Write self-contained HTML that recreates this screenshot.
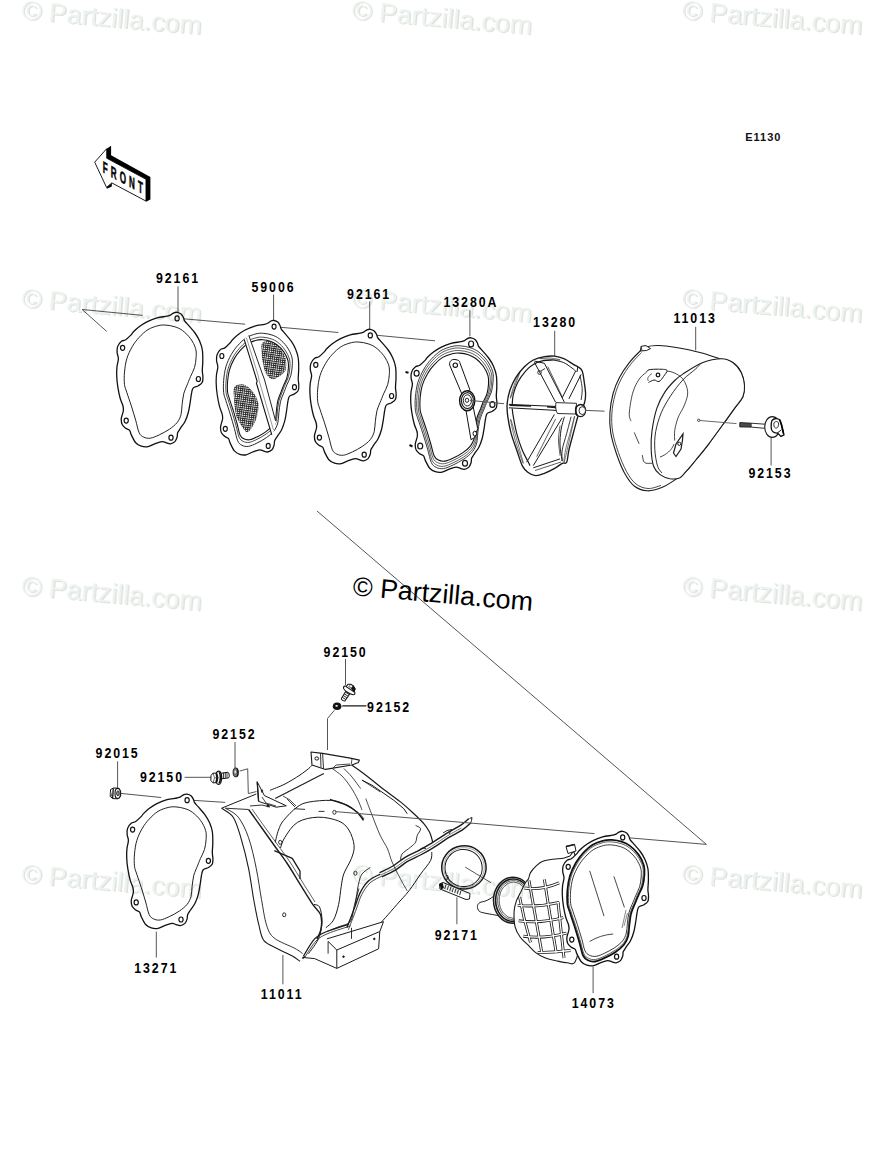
<!DOCTYPE html>
<html><head><meta charset="utf-8"><style>
html,body{margin:0;padding:0;background:#fff;width:894px;height:1170px;overflow:hidden}
svg{display:block}
.wm{font-family:"Liberation Sans",sans-serif;font-size:26.8px;fill:#edf4ee}
.wm2{font-family:"Liberation Sans",sans-serif;font-size:26.8px;fill:#dfe0df}
.lb{font-family:"Liberation Sans",sans-serif;font-weight:bold;font-size:14.4px;letter-spacing:2.25px;fill:#000}
</style></head><body>
<svg width="894" height="1170" viewBox="0 0 894 1170">
<defs><g id="gasket"><path d="M177.1,312.3 C178.3,312.5 180.0,313.1 181.0,313.9 C182.0,314.7 182.7,316.1 183.3,317.3 C183.9,318.5 183.8,319.6 184.6,320.9 C185.4,322.2 186.6,323.1 188.3,325.1 C190.0,327.1 193.1,330.4 195.0,333.0 C196.9,335.6 198.3,338.0 199.5,340.8 C200.7,343.6 201.8,346.4 202.3,349.7 C202.9,353.0 202.8,357.4 202.8,360.9 C202.8,364.4 202.3,367.9 202.3,370.5 C202.3,373.1 202.9,374.7 202.9,376.7 C202.9,378.7 203.1,380.8 202.3,382.3 C201.6,383.8 199.9,384.8 198.4,385.7 C196.9,386.6 194.4,386.8 193.3,387.9 C192.2,389.0 192.2,389.8 191.7,392.4 C191.1,395.0 190.6,400.2 190.0,403.6 C189.4,407.0 189.1,409.5 188.3,412.5 C187.5,415.5 186.3,418.9 185.0,421.5 C183.7,424.1 181.7,426.3 180.5,428.2 C179.3,430.1 178.3,431.1 177.7,432.6 C177.1,434.1 177.6,435.6 177.1,437.1 C176.6,438.6 176.0,440.5 174.9,441.6 C173.8,442.7 171.9,443.6 170.4,443.8 C168.9,444.0 167.3,443.1 165.9,442.7 C164.5,442.3 163.9,441.4 162.0,441.6 C160.1,441.8 157.0,443.0 154.7,443.8 C152.4,444.6 150.2,446.2 148.0,446.6 C145.8,447.0 143.4,446.8 141.3,446.1 C139.2,445.5 137.4,444.6 135.7,442.7 C134.0,440.8 132.3,436.9 131.3,434.9 C130.3,432.8 130.5,431.5 129.6,430.4 C128.7,429.3 126.9,429.1 125.7,428.2 C124.5,427.3 123.0,426.3 122.3,424.8 C121.5,423.3 121.2,420.9 121.2,419.2 C121.2,417.5 121.9,416.2 122.3,414.7 C122.7,413.2 123.3,411.8 123.4,410.3 C123.5,408.8 123.5,407.9 122.9,405.8 C122.4,403.8 120.9,401.2 120.1,398.0 C119.2,394.8 118.4,390.5 117.8,386.8 C117.2,383.1 116.8,379.0 116.7,375.6 C116.6,372.2 116.7,369.3 117.0,366.5 C117.3,363.7 118.4,361.0 118.4,358.7 C118.4,356.4 117.2,354.5 117.1,352.5 C117.0,350.5 116.9,348.5 117.6,346.6 C118.3,344.8 119.8,342.5 121.2,341.4 C122.6,340.2 124.0,340.8 125.7,339.7 C127.4,338.6 130.0,335.9 131.3,334.6 C132.6,333.3 132.2,333.1 133.5,331.8 C134.8,330.5 136.9,328.5 139.1,326.8 C141.3,325.1 143.9,323.3 146.9,321.8 C149.9,320.3 153.7,318.8 157.0,317.9 C160.3,317.0 164.8,316.7 167.0,316.2 C169.2,315.7 169.3,315.7 170.4,315.1 C171.5,314.5 172.7,313.3 173.8,312.8 C174.9,312.3 175.9,312.1 177.1,312.3Z" fill="#fff" stroke="#111" stroke-width="1.3"/><path d="M165.9,325.1 C168.7,325.3 172.1,325.9 174.9,326.8 C177.7,327.7 180.1,328.7 182.7,330.7 C185.3,332.7 188.3,335.6 190.5,338.6 C192.7,341.6 194.7,345.4 195.6,348.6 C196.5,351.8 196.3,354.4 196.1,357.6 C195.9,360.8 195.4,364.4 194.5,367.6 C193.6,370.8 191.6,374.0 190.5,376.6 C189.4,379.2 188.9,380.5 187.8,383.3 C186.7,386.1 184.8,389.9 183.8,393.5 C182.9,397.1 182.6,401.2 182.1,404.7 C181.6,408.2 181.8,411.7 181.0,414.7 C180.2,417.7 179.0,420.2 177.1,422.6 C175.2,425.0 172.3,427.2 169.3,429.3 C166.3,431.4 162.4,433.4 159.2,434.9 C156.0,436.4 152.9,437.8 150.3,438.2 C147.7,438.6 145.5,438.0 143.6,437.1 C141.7,436.2 140.4,435.4 139.1,432.6 C137.8,429.8 137.0,424.8 135.7,420.3 C134.4,415.8 132.8,410.5 131.3,405.8 C129.8,401.1 127.9,395.9 126.8,392.4 C125.7,388.8 124.9,387.9 124.5,384.5 C124.1,381.1 124.1,376.4 124.5,372.1 C124.9,367.8 125.5,363.0 126.8,358.7 C128.1,354.4 130.3,349.9 132.4,346.4 C134.5,342.8 136.5,340.2 139.1,337.4 C141.7,334.6 144.8,331.6 148.0,329.6 C151.2,327.7 155.1,326.4 158.1,325.7 C161.1,324.9 163.1,324.9 165.9,325.1Z" fill="none" stroke="#222" stroke-width="1"/><g id="gbolts"><ellipse cx="177.1" cy="318.4" rx="2.1" ry="2.5" fill="#fff" stroke="#111" stroke-width="1.2"/><ellipse cx="122.6" cy="347.8" rx="2.1" ry="2.5" fill="#fff" stroke="#111" stroke-width="1.2"/><ellipse cx="198.4" cy="379.0" rx="2.1" ry="2.5" fill="#fff" stroke="#111" stroke-width="1.2"/><ellipse cx="126.2" cy="420.6" rx="2.1" ry="2.5" fill="#fff" stroke="#111" stroke-width="1.2"/><ellipse cx="171.0" cy="437.7" rx="2.1" ry="2.5" fill="#fff" stroke="#111" stroke-width="1.2"/></g></g><g id="gflange"><path d="M177.1,312.3 C178.3,312.5 180.0,313.1 181.0,313.9 C182.0,314.7 182.7,316.1 183.3,317.3 C183.9,318.5 183.8,319.6 184.6,320.9 C185.4,322.2 186.6,323.1 188.3,325.1 C190.0,327.1 193.1,330.4 195.0,333.0 C196.9,335.6 198.3,338.0 199.5,340.8 C200.7,343.6 201.8,346.4 202.3,349.7 C202.9,353.0 202.8,357.4 202.8,360.9 C202.8,364.4 202.3,367.9 202.3,370.5 C202.3,373.1 202.9,374.7 202.9,376.7 C202.9,378.7 203.1,380.8 202.3,382.3 C201.6,383.8 199.9,384.8 198.4,385.7 C196.9,386.6 194.4,386.8 193.3,387.9 C192.2,389.0 192.2,389.8 191.7,392.4 C191.1,395.0 190.6,400.2 190.0,403.6 C189.4,407.0 189.1,409.5 188.3,412.5 C187.5,415.5 186.3,418.9 185.0,421.5 C183.7,424.1 181.7,426.3 180.5,428.2 C179.3,430.1 178.3,431.1 177.7,432.6 C177.1,434.1 177.6,435.6 177.1,437.1 C176.6,438.6 176.0,440.5 174.9,441.6 C173.8,442.7 171.9,443.6 170.4,443.8 C168.9,444.0 167.3,443.1 165.9,442.7 C164.5,442.3 163.9,441.4 162.0,441.6 C160.1,441.8 157.0,443.0 154.7,443.8 C152.4,444.6 150.2,446.2 148.0,446.6 C145.8,447.0 143.4,446.8 141.3,446.1 C139.2,445.5 137.4,444.6 135.7,442.7 C134.0,440.8 132.3,436.9 131.3,434.9 C130.3,432.8 130.5,431.5 129.6,430.4 C128.7,429.3 126.9,429.1 125.7,428.2 C124.5,427.3 123.0,426.3 122.3,424.8 C121.5,423.3 121.2,420.9 121.2,419.2 C121.2,417.5 121.9,416.2 122.3,414.7 C122.7,413.2 123.3,411.8 123.4,410.3 C123.5,408.8 123.5,407.9 122.9,405.8 C122.4,403.8 120.9,401.2 120.1,398.0 C119.2,394.8 118.4,390.5 117.8,386.8 C117.2,383.1 116.8,379.0 116.7,375.6 C116.6,372.2 116.7,369.3 117.0,366.5 C117.3,363.7 118.4,361.0 118.4,358.7 C118.4,356.4 117.2,354.5 117.1,352.5 C117.0,350.5 116.9,348.5 117.6,346.6 C118.3,344.8 119.8,342.5 121.2,341.4 C122.6,340.2 124.0,340.8 125.7,339.7 C127.4,338.6 130.0,335.9 131.3,334.6 C132.6,333.3 132.2,333.1 133.5,331.8 C134.8,330.5 136.9,328.5 139.1,326.8 C141.3,325.1 143.9,323.3 146.9,321.8 C149.9,320.3 153.7,318.8 157.0,317.9 C160.3,317.0 164.8,316.7 167.0,316.2 C169.2,315.7 169.3,315.7 170.4,315.1 C171.5,314.5 172.7,313.3 173.8,312.8 C174.9,312.3 175.9,312.1 177.1,312.3Z" fill="#fff" stroke="#111" stroke-width="1.3"/></g><pattern id="mesh" width="2.1" height="2.1" patternUnits="userSpaceOnUse" patternTransform="rotate(8)"><path d="M0,0.5H2.1M0.5,0V2.1" stroke="#222" stroke-width="0.85"/></pattern></defs>
<text x="745.2" y="141.1" font-family="Liberation Sans" font-weight="bold" font-size="11" letter-spacing="1" fill="#111">E1130</text>
<g><polygon points="106.7,148.7 111.1,145.8 111.1,155.3 150.4,177.1 150.4,199.6 146,201.8 146,179.3 106.7,158.2" fill="#000"/><polygon points="106.7,179.3 111.8,182.6 111.8,186.5 106.9,188.7" fill="#000"/><polygon points="94.7,162.2 106.7,148.7 106.7,158.2 146,179.3 146,201.1 111.8,182.9 106.6,187.5" fill="#fff" stroke="#000" stroke-width="0.9" stroke-linejoin="round"/><text transform="translate(102.7,172.3) skewY(28.5) scale(0.5,1)" font-family="Liberation Sans" font-weight="bold" font-size="16.2" letter-spacing="6.2" fill="#000" stroke="#000" stroke-width="0.5">FRONT</text></g>
<g stroke="#555" stroke-width="1" fill="none"><line x1="82.1" y1="309.5" x2="142.7" y2="315.4"/><line x1="82.1" y1="309.5" x2="106.7" y2="331.4"/><line x1="178.0" y1="318.3" x2="245.2" y2="324.2"/><line x1="274.0" y1="326.7" x2="338.4" y2="332.5"/><line x1="370.6" y1="334.7" x2="435.0" y2="340.8"/><line x1="178.0" y1="286.4" x2="178.0" y2="312.5"/><line x1="273.6" y1="294.6" x2="273.6" y2="322.0"/><line x1="369.7" y1="301.3" x2="369.7" y2="330.4"/><line x1="469.9" y1="310.3" x2="469.9" y2="336.3"/><line x1="554.7" y1="330.8" x2="554.7" y2="356.2"/><line x1="695.7" y1="326.8" x2="695.7" y2="350.3"/><line x1="771.1" y1="434.2" x2="771.1" y2="465.5"/><line x1="345.5" y1="659.0" x2="345.5" y2="685.0"/><line x1="342.5" y1="705.5" x2="366.5" y2="705.5"/><line x1="235.0" y1="742.0" x2="235.0" y2="768.0"/><line x1="117.6" y1="761.3" x2="117.6" y2="787.7"/><line x1="184.6" y1="777.3" x2="211.6" y2="777.3"/><line x1="156.3" y1="931.6" x2="156.3" y2="957.5"/><line x1="282.9" y1="955.0" x2="282.9" y2="984.3"/><line x1="456.9" y1="897.3" x2="456.9" y2="924.2"/><line x1="593.1" y1="966.7" x2="593.1" y2="993.1"/></g>
<use href="#gasket"/>
<g><g transform="matrix(0.958,0,0,1,104.4,8.2)"><use href="#gasket"/><path d="M165.5,329.0 C168.1,329.2 171.3,329.7 173.9,330.6 C176.5,331.5 178.7,332.4 181.1,334.2 C183.6,336.1 186.4,338.8 188.4,341.6 C190.4,344.3 192.3,347.9 193.1,350.9 C194.0,353.8 193.8,356.3 193.6,359.2 C193.4,362.2 193.0,365.6 192.1,368.5 C191.3,371.5 189.4,374.5 188.4,376.9 C187.4,379.3 186.9,380.5 185.9,383.1 C184.9,385.8 183.1,389.3 182.2,392.6 C181.3,395.9 181.0,399.8 180.6,403.0 C180.2,406.3 180.3,409.6 179.6,412.3 C178.8,415.1 177.8,417.4 175.9,419.7 C174.1,422.0 171.5,424.0 168.7,425.9 C165.9,427.8 162.2,429.7 159.3,431.1 C156.3,432.5 153.4,433.9 151.0,434.2 C148.6,434.5 146.5,434.0 144.8,433.2 C143.0,432.3 141.8,431.6 140.6,429.0 C139.4,426.4 138.6,421.7 137.4,417.5 C136.2,413.4 134.7,408.4 133.3,404.1 C132.0,399.7 130.2,394.9 129.2,391.6 C128.1,388.3 127.4,387.4 127.0,384.3 C126.7,381.1 126.7,376.7 127.0,372.7 C127.4,368.7 127.9,364.2 129.2,360.3 C130.4,356.3 132.5,352.1 134.4,348.8 C136.3,345.5 138.2,343.1 140.6,340.5 C143.0,337.8 145.9,335.0 148.9,333.2 C151.8,331.4 155.5,330.3 158.3,329.6 C161.0,328.9 162.9,328.8 165.5,329.0Z" fill="none" stroke="#333" stroke-width="0.9"/><path d="M165.3,331.5 C167.8,331.7 170.8,332.2 173.2,333.0 C175.7,333.9 177.8,334.7 180.1,336.5 C182.4,338.2 185.1,340.8 187.1,343.5 C189.0,346.1 190.7,349.5 191.6,352.3 C192.4,355.1 192.2,357.5 192.0,360.3 C191.8,363.1 191.4,366.3 190.6,369.1 C189.8,371.9 188.0,374.8 187.1,377.1 C186.1,379.4 185.6,380.5 184.7,383.0 C183.7,385.5 182.0,388.9 181.1,392.1 C180.3,395.2 180.0,398.8 179.6,402.0 C179.2,405.1 179.4,408.2 178.6,410.8 C177.9,413.5 176.9,415.7 175.2,417.8 C173.5,420.0 170.9,421.9 168.3,423.7 C165.6,425.6 162.2,427.4 159.3,428.7 C156.5,430.0 153.8,431.3 151.5,431.6 C149.2,431.9 147.2,431.5 145.5,430.6 C143.9,429.8 142.7,429.1 141.6,426.7 C140.4,424.2 139.7,419.7 138.6,415.8 C137.4,411.8 136.0,407.1 134.7,402.9 C133.3,398.8 131.7,394.2 130.7,391.1 C129.7,387.9 129.0,387.1 128.6,384.1 C128.3,381.1 128.3,376.9 128.6,373.1 C129.0,369.3 129.5,365.1 130.7,361.3 C131.8,357.5 133.8,353.5 135.6,350.4 C137.4,347.2 139.3,344.9 141.6,342.4 C143.9,339.9 146.6,337.2 149.4,335.5 C152.2,333.8 155.7,332.7 158.4,332.1 C161.0,331.4 162.8,331.4 165.3,331.5Z" fill="none" stroke="#111" stroke-width="1.1"/></g><path d="M262.3,343.1 C263.9,340.8 268.5,340.8 271.4,341.6 C274.3,342.4 277.1,345.3 279.5,348.1 C281.9,350.9 284.5,354.5 285.5,358.2 C286.5,361.9 286.5,367.3 285.5,370.3 C284.5,373.3 281.7,374.8 279.5,376.3 C277.3,377.8 274.6,379.6 272.4,379.3 C270.2,379.0 267.9,376.7 266.4,374.3 C264.9,371.9 264.1,368.4 263.3,365.2 C262.5,362.0 262.0,358.9 261.8,355.2 C261.6,351.5 260.7,345.4 262.3,343.1Z" fill="url(#mesh)" stroke="none"/><path d="M234.5,387.0 C236.0,384.4 240.2,383.9 243.2,384.6 C246.2,385.3 249.8,387.9 252.3,391.0 C254.8,394.1 257.5,399.1 258.3,403.1 C259.1,407.1 258.1,411.5 257.3,415.2 C256.5,418.9 255.0,422.4 253.3,425.3 C251.6,428.2 249.2,432.3 247.2,432.3 C245.2,432.3 243.0,428.2 241.2,425.3 C239.3,422.4 237.3,419.4 236.1,415.2 C234.9,411.0 234.4,404.8 234.1,400.1 C233.8,395.4 233.0,389.6 234.5,387.0Z" fill="url(#mesh)" stroke="none"/><path d="M243.8,339.6 L248.8,334.8 L276.2,421.5 L272.5,436.2 Z" fill="#fff" stroke="none"/><path d="M244.2,339.3 L257.2,381.5 L256.4,383 L271.8,434.8" fill="none" stroke="#111" stroke-width="1.1"/><path d="M248.8,335.4 L259.5,366 L264.6,380 L265.4,383 L275.6,421" fill="none" stroke="#222" stroke-width="1"/><path d="M246.5,338 L258,375 L259.5,382 L273.5,430" fill="none" stroke="#555" stroke-width="0.6"/></g>
<use href="#gasket" transform="translate(193.2,17)"/>
<g><use href="#gflange" transform="translate(294.0,25.5)"/><path d="M460.4,345.8 C463.4,346.0 467.1,346.7 470.1,347.7 C473.2,348.7 475.8,349.8 478.6,351.9 C481.4,354.1 484.7,357.3 487.1,360.5 C489.4,363.7 491.6,367.9 492.6,371.3 C493.6,374.8 493.3,377.7 493.1,381.1 C492.9,384.5 492.4,388.5 491.4,392.0 C490.4,395.4 488.3,398.9 487.1,401.7 C485.8,404.6 485.3,405.9 484.1,409.0 C482.9,412.1 480.8,416.2 479.8,420.1 C478.7,423.9 478.4,428.4 477.9,432.2 C477.4,436.0 477.6,439.8 476.7,443.1 C475.8,446.3 474.6,449.0 472.5,451.6 C470.4,454.3 467.3,456.7 464.0,458.9 C460.8,461.1 456.5,463.4 453.1,465.0 C449.7,466.6 446.3,468.2 443.4,468.6 C440.6,469.0 438.2,468.4 436.2,467.4 C434.1,466.4 432.7,465.5 431.3,462.5 C429.9,459.4 429.0,454.0 427.6,449.1 C426.2,444.3 424.4,438.5 422.8,433.4 C421.2,428.4 419.2,422.7 417.9,418.9 C416.7,415.0 415.9,414.0 415.4,410.3 C415.0,406.6 415.0,401.5 415.4,396.8 C415.9,392.2 416.5,387.0 417.9,382.3 C419.4,377.7 421.8,372.8 424.0,369.0 C426.2,365.1 428.5,362.2 431.3,359.2 C434.1,356.2 437.5,352.8 440.9,350.7 C444.4,348.6 448.7,347.3 451.9,346.5 C455.1,345.7 457.3,345.6 460.4,345.8Z" fill="none" stroke="#222" stroke-width="0.90"/><path d="M460.1,348.1 C463.1,348.3 466.6,348.9 469.5,349.9 C472.5,350.8 475.0,351.9 477.7,353.9 C480.4,356.0 483.6,359.1 485.9,362.2 C488.1,365.3 490.2,369.3 491.2,372.6 C492.2,376.0 491.9,378.7 491.7,382.0 C491.5,385.4 491.0,389.2 490.0,392.5 C489.1,395.8 487.0,399.2 485.9,401.9 C484.7,404.6 484.2,406.0 483.0,408.9 C481.9,411.8 479.8,415.8 478.8,419.6 C477.9,423.3 477.6,427.6 477.1,431.3 C476.6,435.0 476.8,438.6 475.9,441.7 C475.1,444.8 473.9,447.4 471.8,450.0 C469.8,452.5 466.8,454.8 463.7,457.0 C460.6,459.1 456.5,461.3 453.1,462.8 C449.8,464.4 446.6,465.9 443.8,466.3 C441.1,466.7 438.8,466.1 436.8,465.1 C434.9,464.1 433.5,463.3 432.1,460.4 C430.8,457.5 429.9,452.2 428.6,447.6 C427.2,442.9 425.5,437.3 424.0,432.4 C422.4,427.6 420.5,422.1 419.3,418.4 C418.1,414.7 417.3,413.7 416.9,410.2 C416.5,406.6 416.5,401.7 416.9,397.2 C417.3,392.7 417.9,387.7 419.3,383.2 C420.7,378.7 423.0,374.1 425.1,370.3 C427.3,366.6 429.4,363.9 432.1,360.9 C434.9,358.0 438.1,354.8 441.4,352.8 C444.7,350.7 448.9,349.5 452.0,348.7 C455.1,347.9 457.2,347.9 460.1,348.1Z" fill="none" stroke="#333" stroke-width="0.80"/><path d="M459.9,350.6 C462.7,350.8 466.1,351.4 468.9,352.3 C471.7,353.2 474.1,354.2 476.7,356.2 C479.3,358.2 482.4,361.1 484.5,364.1 C486.6,367.1 488.7,370.9 489.6,374.1 C490.5,377.3 490.3,379.9 490.1,383.1 C489.9,386.3 489.4,389.9 488.5,393.1 C487.6,396.3 485.6,399.5 484.5,402.1 C483.4,404.7 482.9,406.0 481.8,408.8 C480.7,411.6 478.8,415.4 477.8,419.0 C476.9,422.6 476.6,426.7 476.1,430.2 C475.6,433.7 475.8,437.2 475.0,440.2 C474.2,443.2 473.1,445.7 471.1,448.1 C469.2,450.5 466.3,452.8 463.3,454.8 C460.3,456.9 456.4,458.9 453.2,460.4 C450.0,461.9 446.9,463.3 444.3,463.7 C441.7,464.1 439.5,463.5 437.6,462.6 C435.7,461.7 434.4,460.9 433.1,458.1 C431.8,455.3 431.0,450.3 429.7,445.8 C428.4,441.3 426.8,436.0 425.3,431.3 C423.8,426.6 421.9,421.4 420.8,417.9 C419.7,414.3 418.9,413.4 418.5,410.0 C418.1,406.6 418.1,401.9 418.5,397.6 C418.9,393.3 419.5,388.5 420.8,384.2 C422.1,379.9 424.3,375.4 426.4,371.9 C428.4,368.3 430.5,365.7 433.1,362.9 C435.7,360.1 438.8,357.1 442.0,355.1 C445.2,353.2 449.1,351.9 452.1,351.2 C455.1,350.4 457.1,350.4 459.9,350.6Z" fill="none" stroke="#333" stroke-width="0.80"/><path d="M459.7,353.1 C462.3,353.3 465.6,353.8 468.3,354.7 C470.9,355.6 473.2,356.6 475.7,358.5 C478.2,360.3 481.1,363.2 483.1,366.0 C485.2,368.9 487.1,372.5 488.0,375.6 C488.9,378.6 488.7,381.1 488.5,384.2 C488.3,387.2 487.9,390.7 487.0,393.7 C486.1,396.7 484.2,399.8 483.1,402.3 C482.1,404.8 481.6,406.0 480.6,408.7 C479.5,411.4 477.7,415.0 476.8,418.4 C475.8,421.8 475.6,425.8 475.1,429.1 C474.7,432.5 474.9,435.8 474.1,438.7 C473.3,441.5 472.2,443.9 470.4,446.2 C468.5,448.6 465.8,450.7 462.9,452.6 C460.1,454.6 456.3,456.6 453.3,458.0 C450.2,459.4 447.2,460.8 444.8,461.1 C442.3,461.5 440.1,461.0 438.4,460.1 C436.6,459.2 435.3,458.5 434.1,455.8 C432.8,453.1 432.1,448.3 430.8,444.0 C429.6,439.8 428.0,434.6 426.6,430.2 C425.2,425.7 423.4,420.8 422.3,417.4 C421.2,414.0 420.5,413.1 420.1,409.8 C419.8,406.6 419.8,402.1 420.1,398.0 C420.5,393.9 421.1,389.3 422.3,385.2 C423.6,381.1 425.7,376.8 427.7,373.5 C429.6,370.1 431.6,367.5 434.1,364.9 C436.5,362.2 439.5,359.3 442.6,357.4 C445.6,355.6 449.4,354.4 452.2,353.7 C455.1,353.0 457.0,352.9 459.7,353.1Z" fill="none" stroke="#111" stroke-width="1.10"/><ellipse cx="471.1" cy="343.9" rx="2.5" ry="2.9" fill="#fff" stroke="#111" stroke-width="1.2"/><ellipse cx="416.6" cy="373.3" rx="2.5" ry="2.9" fill="#fff" stroke="#111" stroke-width="1.2"/><ellipse cx="492.4" cy="404.5" rx="2.5" ry="2.9" fill="#fff" stroke="#111" stroke-width="1.2"/><ellipse cx="420.2" cy="446.1" rx="2.5" ry="2.9" fill="#fff" stroke="#111" stroke-width="1.2"/><ellipse cx="465.0" cy="463.2" rx="2.5" ry="2.9" fill="#fff" stroke="#111" stroke-width="1.2"/><path d="M405.5,372 l3,0.8 M409.5,445 l3,1.5" stroke="#111" stroke-width="2"/><path d="M449.7,365.2 C449,361 452,359 455,359.5 C458,359.8 460,361 459.8,362.5 L469.9,389.8 L462,394.3 Z" fill="#fff" stroke="#111" stroke-width="1"/><circle cx="455.3" cy="365.2" r="2.2" fill="#fff" stroke="#111" stroke-width="1.1"/><path d="M465.4,407 L471,439.7 L474.5,437.5 L477.7,428.6 L473.2,407 Z" fill="#fff" stroke="#111" stroke-width="1"/><ellipse cx="474.8" cy="433.6" rx="1.8" ry="2.4" fill="#fff" stroke="#111" stroke-width="1"/><ellipse cx="467.2" cy="400.7" rx="7.6" ry="10" fill="#fff" stroke="#111" stroke-width="1.4"/><ellipse cx="467.4" cy="400.6" rx="6" ry="8" fill="none" stroke="#222" stroke-width="1.2"/><ellipse cx="467.4" cy="400.4" rx="4.1" ry="5.6" fill="none" stroke="#222" stroke-width="1"/><ellipse cx="467" cy="400.3" rx="1.7" ry="2.1" fill="none" stroke="#111" stroke-width="0.9"/></g>
<g fill="none" stroke="#1a1a1a" stroke-width="1" stroke-linejoin="round"><path d="M554.4,356.1 C557.7,356.5 561.2,357.5 564.4,358.9 C567.5,360.3 571.1,363.1 573.3,364.4 C575.5,365.7 576.3,365.6 577.8,366.7 C579.3,367.8 581.1,368.3 582.2,371.1 C583.3,373.9 583.8,379.4 584.4,383.3 C585.0,387.2 585.6,391.1 585.6,394.4 C585.6,397.7 585.3,400.4 584.4,403.3 C583.5,406.2 581.1,409.8 580.0,412.0 C578.9,414.2 578.9,413.1 577.8,416.7 C576.7,420.2 574.8,427.8 573.3,433.3 C571.8,438.9 570.0,445.2 568.9,450.0 C567.8,454.8 567.8,460.0 566.7,462.2 C565.6,464.4 564.1,462.4 562.2,463.3 C560.4,464.2 558.6,466.1 555.6,467.8 C552.6,469.5 547.7,472.0 544.4,473.3 C541.1,474.6 538.4,475.8 535.6,475.6 C532.8,475.4 530.0,473.9 527.8,472.2 C525.6,470.5 524.1,469.3 522.2,465.6 C520.4,461.9 518.6,455.4 516.7,450.0 C514.9,444.6 512.6,438.9 511.1,433.3 C509.6,427.8 508.5,421.7 507.8,416.7 C507.1,411.7 506.8,407.8 507.2,403.3 C507.6,398.9 508.6,394.2 510.0,390.0 C511.4,385.8 513.2,381.7 515.6,377.8 C518.0,373.9 521.5,369.7 524.4,366.7 C527.3,363.7 530.0,361.7 533.3,360.0 C536.6,358.3 540.9,357.3 544.4,356.7 C547.9,356.1 551.1,355.7 554.4,356.1Z" fill="#fff" stroke-width="1.35"/><path d="M553.3,360.0 C551.6,360.1 546.6,359.9 543.3,360.6 C540.0,361.3 536.2,362.6 533.3,364.4 C530.3,366.1 528.2,368.1 525.6,371.1 C523.0,374.1 519.8,378.3 517.8,382.2 C515.8,386.1 514.2,390.7 513.3,394.4 C512.4,398.1 512.4,402.8 512.2,404.5" stroke-width="1.20"/><path d="M512.2,408.5 C512.4,409.9 512.5,412.6 513.3,416.7 C514.0,420.8 515.2,427.8 516.7,433.3 C518.2,438.9 520.4,445.4 522.2,450.0 C524.1,454.6 526.5,458.5 527.8,461.1 C529.1,463.7 529.6,464.9 530.0,465.6" stroke-width="1.20"/><path d="M553.3,360.0 C555.0,360.4 560.4,361.2 563.5,362.5 C566.6,363.8 569.8,366.4 572.0,368.0 C574.2,369.6 575.8,371.3 576.5,372.0" stroke-width="1.00"/><path d="M520.0,372.0 C520.7,369.7 516.1,379.7 514.5,384.0 C512.9,388.3 509.6,400.0 510.5,398.0 C511.4,396.0 519.3,374.3 520.0,372.0Z" stroke-width="0.60"/><path d="M511.0,420.0 C509.5,415.7 512.7,430.7 514.0,436.0 C515.3,441.3 517.5,447.7 519.0,452.0 C520.5,456.3 524.3,467.3 523.0,462.0 C521.7,456.7 512.5,424.3 511.0,420.0Z" stroke-width="0.60"/><path d="M540.0,358.5 C538.3,358.2 546.7,357.8 550.0,358.0 C553.3,358.2 561.7,359.9 560.0,360.0 C558.3,360.1 541.7,358.8 540.0,358.5Z" stroke-width="0.60"/><path d="M580.0,375.6 C580.4,377.8 582.0,384.8 582.2,388.9 C582.4,393.0 581.3,398.1 581.1,400.0" stroke-width="0.90"/><path d="M571.1,416.7 C570.4,419.5 568.2,427.8 566.7,433.3 C565.2,438.9 563.0,445.4 562.2,450.0 C561.5,454.6 562.2,459.2 562.2,461.1" stroke-width="0.90"/><path d="M574.5,417.0 C575.4,412.4 571.5,427.8 570.0,433.3 C568.5,438.8 566.4,445.4 565.5,450.0 C564.6,454.6 563.0,466.5 564.5,461.0 C566.0,455.5 573.6,421.6 574.5,417.0Z" stroke-width="0.60"/><path d="M533.3,467.8 L560.0,458.9" stroke-width="1.00"/><path d="M535.0,470.5 L561.0,462.0" stroke-width="0.70"/><path d="M534.4,362.2 L555.6,402.2" stroke-width="1.00"/><path d="M544.4,363.3 L564.4,402.2" stroke-width="1.00"/><path d="M547.8,366.7 L562.2,396.7" stroke-width="0.70"/><path d="M534.4,361.1 L544.4,363.3" stroke-width="1.00"/><circle cx="539.5" cy="372.5" r="1.8" stroke-width="0.9"/><path d="M541.0,371.0 L545.0,368.5" stroke-width="0.90"/><path d="M575.6,371.1 L562.2,397.8" stroke-width="1.00"/><path d="M581.1,374.4 L568.9,398.9" stroke-width="1.00"/><path d="M577.8,366.7 L577.0,372.0" stroke-width="1.00"/><path d="M508.9,404.4 L562.2,406.7" stroke-width="1.00"/><path d="M508.9,407.8 L560.0,410.6" stroke-width="1.00"/><path d="M509.5,405.3 L531.0,406.0" stroke-width="1.60"/><path d="M547.0,406.8 L558.0,407.6" stroke-width="1.60"/><path d="M554.4,414.4 L526.7,462.2" stroke-width="1.00"/><path d="M562.2,417.8 L533.3,465.6" stroke-width="1.00"/><path d="M555.6,418.9 L536.7,456.7" stroke-width="0.70"/><path d="M564.4,416.7 C563.8,418.9 561.7,425.3 561.0,430.0 C560.3,434.7 559.8,439.8 560.0,445.0 C560.2,450.2 561.8,458.4 562.2,461.1" stroke-width="1.00"/><path d="M560.0,425.6 C559.8,428.0 558.5,435.0 558.5,440.0 C558.5,445.0 559.8,453.0 560.0,455.6" stroke-width="0.70"/><path d="M556,402.6 L576.5,403.3 L576,414 L557.5,413.5 C555.5,411 555.3,405 556,402.6 Z" fill="#fff" stroke-width="0.9"/><ellipse cx="580.6" cy="410.6" rx="5" ry="6.1" fill="#fff" stroke-width="1.3"/><ellipse cx="582.3" cy="410.6" rx="3.3" ry="3.9" fill="#fff" stroke-width="0.9"/><path d="M576.5,406 C575.5,409 575.5,413 577,415.5" stroke-width="1.6"/></g>
<g fill="none" stroke="#1a1a1a" stroke-width="1"><path d="M645.5,347.0 C648.5,346.2 653.6,345.4 658.5,345.5 C663.4,345.6 667.8,346.1 674.7,347.3 C681.6,348.5 692.1,350.5 700.0,352.5 C707.9,354.5 716.3,357.8 721.8,359.5 C727.3,361.2 729.9,360.6 733.1,362.7 C736.3,364.8 739.3,368.6 741.2,372.4 C743.1,376.2 744.2,381.3 744.5,385.4 C744.8,389.5 744.5,393.0 742.9,396.8 C741.3,400.6 738.2,403.2 734.7,408.1 C731.2,413.0 726.1,420.1 721.8,426.0 C717.5,431.9 713.1,438.1 708.8,443.8 C704.5,449.5 699.6,455.4 695.8,460.0 C692.0,464.6 689.9,467.9 686.1,471.4 C682.3,474.9 677.2,478.4 673.1,481.1 C669.0,483.8 666.1,486.0 661.8,487.6 C657.5,489.2 651.8,491.1 647.2,490.8 C642.6,490.5 638.0,489.0 634.2,486.0 C630.4,483.0 627.5,478.4 624.5,473.0 C621.5,467.6 618.7,460.3 616.4,453.5 C614.1,446.7 611.8,439.1 610.7,432.4 C609.6,425.6 609.5,419.5 609.9,413.0 C610.3,406.5 611.5,399.4 613.1,393.5 C614.7,387.6 616.9,382.4 619.6,377.3 C622.3,372.2 625.8,367.2 629.3,362.7 C632.8,358.2 638.0,353.1 640.7,350.5 C643.4,347.9 642.5,347.8 645.5,347.0Z" fill="#fff" stroke-width="1.1"/><path d="M641.5,352.5 C639.7,354.5 633.9,360.1 630.5,364.5 C627.1,368.9 623.8,373.9 621.2,379.0 C618.6,384.1 616.5,389.3 615.0,395.0 C613.5,400.7 612.3,406.8 611.9,413.0 C611.5,419.2 611.6,425.4 612.7,432.0 C613.8,438.6 616.1,445.9 618.4,452.5 C620.7,459.1 623.6,466.2 626.5,471.5 C629.4,476.8 632.4,481.2 636.0,484.0 C639.6,486.8 643.8,488.2 648.0,488.5 C652.2,488.8 658.8,486.0 661.0,485.5" stroke-width="0.8"/><path d="M640.3,351 L641.2,346.3 L646,345.6 L650.5,348.6 L646.5,350.5 Z" fill="#fff" stroke-width="1"/><path d="M641.2,346.3 L642,350.8" stroke-width="0.8"/><path d="M682.8,374.1 C687.4,371.1 695.8,365.3 702.3,362.7 C708.8,360.1 716.7,358.7 721.8,358.7 C726.9,358.7 729.9,360.4 733.1,362.7 C736.3,365.0 739.3,368.6 741.2,372.4 C743.1,376.2 744.2,381.3 744.5,385.4 C744.8,389.5 744.5,393.0 742.9,396.8 C741.3,400.6 738.2,403.2 734.7,408.1 C731.2,413.0 726.1,420.1 721.8,426.0 C717.5,431.9 713.1,438.1 708.8,443.8 C704.5,449.5 699.6,455.4 695.8,460.0 C692.0,464.6 688.8,468.4 686.1,471.4 C683.4,474.4 682.3,476.7 679.6,477.9 C676.9,479.1 673.1,479.2 669.9,478.7 C666.6,478.1 662.8,476.6 660.1,474.6 C657.4,472.6 655.2,470.6 653.7,466.5 C652.2,462.4 651.5,456.2 651.2,450.3 C650.9,444.4 651.0,437.8 652.0,430.8 C653.0,423.8 654.7,414.6 656.9,408.1 C659.1,401.6 662.0,396.5 665.0,391.9 C668.0,387.3 671.7,383.5 674.7,380.5 C677.7,377.5 678.2,377.1 682.8,374.1Z" fill="#fff" stroke-width="1.1"/><path d="M700.0,364.5 C699.2,365.3 698.0,366.8 695.2,369.4 C692.4,371.9 687.1,375.4 683.0,379.8 C678.9,384.2 674.3,390.2 670.7,395.7 C667.1,401.2 663.8,406.7 661.3,412.7 C658.8,418.7 656.8,425.4 655.7,431.5 C654.6,437.6 654.5,443.6 654.8,449.4 C655.1,455.2 656.4,462.4 657.6,466.3 C658.8,470.2 661.3,471.9 662.0,473.0" stroke-width="0.9"/><path d="M648.8,370.8 C647.3,372.0 642.6,374.5 640.0,378.0 C637.4,381.5 634.8,386.2 633.0,392.0 C631.2,397.8 629.6,408.1 629.3,413.0 C629.0,417.9 630.7,419.8 631.0,421.1" stroke-width="0.8"/><path d="M634.2,432.4 L639.1,443.8 M642.3,455.1 L643.5,461.5 L646,463.3 L652,463.3" stroke-width="0.8"/><path d="M660.1,370.8 C662.1,371.0 668.2,370.6 672.0,372.0 C675.8,373.4 680.2,375.6 682.8,378.9 C685.4,382.2 687.4,387.6 687.7,391.9 C688.0,396.2 686.1,400.6 684.5,404.9 C682.9,409.2 679.6,413.5 678.0,417.8 C676.4,422.1 675.2,427.0 674.7,430.8 C674.2,434.6 674.7,439.0 674.7,440.6" stroke-width="0.8"/><path d="M646.5,372.0 C646.9,371.6 647.0,370.3 649.0,369.8 C651.0,369.3 655.5,369.1 658.5,369.2 C661.5,369.3 666.2,369.1 667.0,370.3 C667.8,371.5 664.8,374.6 663.5,376.5 C662.2,378.4 660.6,380.9 659.0,381.5 C657.4,382.1 655.8,379.8 654.0,380.0 C652.2,380.2 649.4,382.1 648.5,382.5" fill="#fff" stroke-width="1"/><circle cx="658" cy="375" r="1.8" fill="#fff" stroke-width="1.3"/><path d="M683,434 L682.5,440 L681,449 L676,456.5 L673.5,453 L676,444 Z" fill="#fff" stroke-width="1.2"/><circle cx="679.3" cy="443.8" r="1.6" fill="#fff"/><path d="M660,457 C666,455 672,450 674,444" stroke-width="0.8"/><path d="M648.5,381 C646,378 650,375 652,373.5" stroke-width="0.7"/><circle cx="698.7" cy="420.3" r="1.2" stroke-width="0.8"/><path d="M700,420.5 L736.5,423.6" stroke="#444" stroke-width="0.8"/></g>
<g fill="none" stroke="#1a1a1a" stroke-width="1"><path d="M739.8,422.6 L751.1,423.2 L751.1,427.1 L739.8,426.9 Z" fill="#666" stroke="#111" stroke-width="0.9"/><path d="M741,423.2 V426.5 M743,423.2 V426.5 M745,423.2 V426.7 M747,423.2 V426.7 M749,423.2 V426.8" stroke="#222" stroke-width="0.8"/><path d="M751.1,423.2 L764.8,424.2 M751.1,427.1 L764.8,428.3" stroke-width="0.9"/><ellipse cx="772.3" cy="427" rx="7.6" ry="10.4" fill="#fff" stroke-width="1.1"/><path d="M772,420.5 C774.5,417.6 779,418 780.4,421 L784,434.8 L781,436.4 L777.5,433 C774,433.5 771,431 771.2,427.5 C771.2,424.5 771,422.5 772,420.5 Z" fill="#fff" stroke="#111" stroke-width="1.3"/><path d="M774,423 C775,421 778,421 778.5,423 C779,426 777.5,428.5 775.5,428 C774,427.5 773.5,425 774,423 Z" stroke-width="0.9"/><path d="M777.6,432.8 L781.5,429.8" stroke-width="1"/><path d="M779.5,419.5 L781.6,425 L783.5,433.5" stroke="#000" stroke-width="1.6"/></g>
<g stroke="#555" stroke-width="1" fill="none"><line x1="470.0" y1="400.4" x2="504.0" y2="403.7"/><line x1="586.0" y1="410.4" x2="604.5" y2="411.2"/></g>
<g stroke="#555" stroke-width="1" fill="none"><line x1="317.0" y1="511.0" x2="706.4" y2="844.4"/><line x1="706.4" y1="844.4" x2="624.0" y2="837.4"/><line x1="120.6" y1="793.4" x2="161.2" y2="797.5"/><line x1="188.3" y1="800.0" x2="225.2" y2="802.4"/><line x1="342.1" y1="706.2" x2="366.0" y2="706.2"/><line x1="334.4" y1="710.3" x2="327.5" y2="718.5"/><line x1="327.5" y1="718.5" x2="327.5" y2="750.0"/><line x1="239.6" y1="771.1" x2="247.7" y2="768.8"/><line x1="247.7" y1="768.8" x2="248.3" y2="793.6"/><line x1="248.3" y1="793.6" x2="257.7" y2="791.2"/></g>
<g stroke="#111" fill="#fff" transform="translate(349.2,690.4) rotate(123)"><path d="M1,-2.4 L11,-2.2 C12.2,-2.1 12.2,2.1 11,2.2 L1,2.4 Z" stroke-width="1"/><path d="M3.5,-2.3 v4.6 M5.5,-2.3 v4.6 M7.5,-2.2 v4.4 M9.5,-2.2 v4.4" stroke-width="0.8" fill="none"/><ellipse cx="0" cy="0" rx="2.6" ry="6.6" stroke-width="1.2"/><path d="M-1.5,-4.6 L-4.5,-4.2 L-6,-1 L-6,2 L-4.5,4.4 L-1.5,4.6 Z" stroke-width="1"/><path d="M-1.5,-4.6 L-4.5,-4.2 L-6,-1 L-3,-0.8 Z" fill="#111" stroke-width="0.6"/><path d="M-6,-1 L-3,-0.8 L-1.5,-4.6 M-3,-0.8 L-3,2.4 L-6,2" stroke-width="0.6" fill="none"/></g><ellipse cx="337.1" cy="706.2" rx="4.3" ry="3.8" fill="#111"/><ellipse cx="336.6" cy="705.8" rx="1.3" ry="0.9" fill="#fff"/>
<g stroke="#111" fill="#fff"><path d="M221.5,773.2 L227.8,772.3 C229.3,772.2 229.8,777.6 228.5,777.9 L221.8,778.8 Z" stroke-width="1"/><path d="M223.5,772.8 v5.5 M225.3,772.5 v5.5 M227,772.3 v5.5" stroke-width="0.8" fill="none"/><ellipse cx="218.6" cy="777.8" rx="2.9" ry="6.6" stroke-width="1.2"/><path d="M219.5,772 C221.6,773 221.8,782 219.5,783.5 L218.3,783 C220,781 220,774 218.5,772.5 Z" fill="#111" stroke="none"/><path d="M211,775.6 L213,773.1 L216.8,773.2 L218,777.8 L216.8,782.6 L213,782.9 L210.8,780.4 Z" stroke-width="1"/><path d="M216.8,773.2 L218,777.8 L216.8,782.6 L215.3,782.4 L216.2,777.8 L215.5,773.4 Z" fill="#111" stroke="none"/><path d="M213,773.1 L214.5,777.7 L213,782.9 M214.5,777.7 L216.2,777.8" stroke-width="0.6" fill="none"/></g><ellipse cx="235.6" cy="772.4" rx="2.5" ry="4.5" fill="#777" stroke="#111" stroke-width="0.9"/><path d="M236.6,768.3 C238.6,769.5 238.6,775.5 236.6,776.6" stroke="#111" stroke-width="1.3" fill="none"/><ellipse cx="235.2" cy="772" rx="0.8" ry="1.4" fill="#eee"/>
<g stroke="#111" stroke-width="1" fill="#fff"><path d="M110.6,789.5 L113.5,788 L118.5,788.2 L120.6,791 L120.7,796 L118,798.8 L113,798.6 L110.2,796.5 Z"/><ellipse cx="117.7" cy="793.4" rx="2.7" ry="5" stroke-width="1.1"/><ellipse cx="117.9" cy="793.3" rx="1.3" ry="2.5" fill="#999" stroke-width="0.8"/><path d="M113.3,788.2 L112.6,798.4" stroke-width="1.3" fill="none"/><path d="M110.5,792 L111.5,796.5" stroke="#666" stroke-width="1.5"/></g>
<use href="#gasket" transform="translate(10,481.8)"/>
<g fill="none" stroke="#1a1a1a" stroke-width="1" stroke-linejoin="round"><path d="M221.5,807.2 L256.3,794.0 L257.2,781.8 L264.4,795.6 L271.7,791.3 L311.0,766.5 L311.0,752.0 L322.6,753.4 L350.3,758.1 L359.4,760.1 L358.4,762.5 L351.8,765.0 L363.6,773.4 L380.3,786.8 L400.5,801.9 L413.9,813.7 L424.0,823.8 L430.7,833.8 L432.3,842.2 L470.1,819.6 L469.0,823.5 L447.4,836.0 L430.7,847.0 L430.7,860.7 L420.6,874.1 L408.9,890.9 L397.1,904.3 L385.4,917.7 L378.5,925.0 L378.5,951.0 L336.0,970.3 L328.3,966.0 L310.3,956.1 L300.0,961.2 L292.3,956.1 L276.9,948.4 L264.0,940.7 L258.9,925.2 L253.7,899.5 L248.6,868.6 L240.9,837.8 L233.2,817.2 Z" fill="#fff" stroke="none"/><path d="M221.6,808.2 C223.5,809.7 230.0,812.3 233.2,817.2 C236.4,822.1 238.3,829.2 240.9,837.8 C243.5,846.4 246.5,858.3 248.6,868.6 C250.7,878.9 252.0,890.1 253.7,899.5 C255.4,908.9 257.2,918.3 258.9,925.2 C260.6,932.1 261.0,936.8 264.0,940.7 C267.0,944.6 272.2,945.8 276.9,948.4 C281.6,951.0 288.4,954.0 292.3,956.1 C296.2,958.2 298.7,960.4 300.0,961.2" stroke-width="1.10"/><path d="M225.4,808.2 C227.6,809.7 234.4,812.3 238.3,817.2 C242.2,822.1 245.6,829.2 248.6,837.8 C251.6,846.4 254.2,858.3 256.3,868.6 C258.4,878.9 259.8,890.1 261.5,899.5 C263.2,908.9 264.5,918.8 266.6,925.2 C268.7,931.6 269.6,934.2 274.3,938.1 C279.0,942.0 290.2,945.8 294.9,948.4 C299.6,951.0 301.3,952.6 302.6,953.5" stroke-width="0.90"/><path d="M221.6,808.2 L256.3,794.0" stroke-width="1.00"/><path d="M225.4,808.2 L248.6,809.5" stroke-width="0.90"/><path d="M248.6,809.5 C250.8,812.5 257.2,821.5 261.5,827.5 C265.8,833.5 270.0,839.5 274.3,845.5 C278.6,851.5 282.9,857.1 287.2,863.5 C291.5,869.9 295.7,877.2 300.0,884.1 C304.3,891.0 309.5,899.5 312.9,904.6 C316.3,909.7 319.3,910.6 320.6,914.9 C321.9,919.2 321.9,925.2 320.6,930.4 C319.3,935.5 315.9,941.1 312.9,945.8 C309.9,950.5 304.3,956.6 302.6,958.7" stroke-width="1.40"/><path d="M252.0,809.0 C254.0,811.8 259.8,820.2 264.0,826.0 C268.2,831.8 272.7,838.0 277.0,844.0 C281.3,850.0 285.7,855.5 290.0,862.0 C294.3,868.5 298.8,876.3 303.0,883.0 C307.2,889.7 313.0,898.8 315.0,902.0" stroke-width="0.70"/><path d="M274.3,850.6 L292.3,858.3 L300.0,871.2 L300.0,878.9" stroke-width="1.30"/><path d="M275.2,842.3 C275.8,840.2 277.1,833.6 278.5,830.0 C279.9,826.4 280.5,824.2 283.6,820.4 C286.7,816.6 292.8,810.1 297.0,807.1 C301.2,804.1 303.1,803.2 308.7,802.1 C314.3,801.0 324.6,800.1 330.5,800.4 C336.4,800.7 339.4,801.8 343.9,803.8 C348.4,805.8 353.9,809.6 357.3,812.1 C360.7,814.6 362.9,817.7 364.0,818.8" stroke-width="1.00"/><path d="M332.2,768.5 C333.8,769.8 338.9,772.9 342.0,776.0 C345.1,779.1 347.9,782.9 350.6,786.9 C353.3,790.9 356.1,796.1 358.0,800.0 C359.9,803.9 361.3,808.3 362.0,810.0" stroke-width="0.80"/><path d="M343.9,768.5 C345.2,769.9 349.2,773.6 352.0,777.0 C354.8,780.4 359.2,786.7 360.7,788.6" stroke-width="0.80"/><path d="M280.5,848.0 C281.2,846.3 281.8,842.1 284.6,837.8 C287.4,833.5 291.9,825.7 297.5,822.3 C303.1,818.9 311.2,817.4 318.1,817.2 C325.0,817.0 333.5,818.9 338.6,821.0 C343.7,823.1 346.3,825.9 348.9,830.0 C351.5,834.1 353.7,840.8 354.1,845.5 C354.5,850.2 353.2,853.6 351.5,858.3 C349.8,863.0 345.5,869.1 343.8,873.8 C342.1,878.5 342.1,881.5 341.2,886.6 C340.3,891.7 339.9,899.0 338.6,904.6 C337.3,910.2 335.6,916.2 333.5,920.1 C331.4,924.0 327.1,926.5 325.8,927.8" stroke-width="1.00"/><path d="M294.3,808.7 L305.0,809.4" stroke-width="0.90"/><path d="M318.5,811.4 L324.5,811.4" stroke-width="0.90"/><path d="M330.0,799.4 C332.8,800.4 342.3,803.2 346.8,805.3 C351.3,807.4 354.0,809.5 356.8,812.0 C359.6,814.5 362.5,819.0 363.6,820.4" stroke-width="1.50"/><path d="M257.2,781.8 L264.4,795.6 L286.3,805.8 L276.1,807.2 L258.6,801.4 Z" fill="#fff" stroke-width="1"/><path d="M257.2,781.8 L258.6,801.4" stroke-width="1.30"/><path d="M262.0,797.0 L266.0,803.0 L276.0,806.0" stroke-width="0.80"/><path d="M250.0,806.0 L262.0,805.0 L270.0,807.0" stroke-width="0.90"/><ellipse cx="262" cy="791" rx="1.2" ry="1.8" fill="#333" stroke="none"/><ellipse cx="268" cy="806" rx="1.5" ry="1.2" fill="#222" stroke="none"/><path d="M270.1,790.3 C272.6,789.2 280.0,786.5 285.0,784.0 C290.0,781.5 296.1,777.6 300.0,775.0 C303.9,772.4 306.7,770.1 308.7,768.5 C310.7,766.9 311.5,765.7 312.1,765.1" stroke-width="1.00"/><path d="M275.2,798.6 L323.8,773.5" stroke-width="1.10"/><path d="M287.2,799.2 L294.9,806.9" stroke-width="0.90"/><path d="M283.0,796.0 L290.0,800.0 L296.0,806.0" stroke-width="0.80"/><path d="M311,752 L322.6,753.4 L350.3,758.1 L359.4,760.1 L358.4,762.5 L351.8,765 L325.5,769.4 L312,765 Z" fill="#fff" stroke-width="1.1"/><path d="M322.6,753.4 L323.5,768.5" stroke-width="0.90"/><path d="M320.5,753.2 L321.0,767.5" stroke-width="0.90"/><ellipse cx="316.8" cy="758.5" rx="1.9" ry="1.6" fill="#fff" stroke-width="1"/><path d="M351.3,764.2 L352.0,758.5" stroke-width="0.80"/><path d="M333.0,768.0 L336.0,765.0 L350.0,764.0" stroke-width="0.80"/><path d="M351.8,765.0 C353.8,766.4 358.9,769.8 363.6,773.4 C368.4,777.0 374.2,782.0 380.3,786.8 C386.4,791.5 394.9,797.4 400.5,801.9 C406.1,806.4 410.0,810.1 413.9,813.7 C417.8,817.4 421.4,820.8 424.0,823.8 C426.6,826.8 428.1,829.3 429.5,832.0 C430.9,834.7 431.7,838.0 432.2,840.0 C432.7,842.0 432.5,843.3 432.6,844.0" stroke-width="1.20"/><path d="M361.9,780.1 L372.0,785.2 L393.8,800.3 L403.8,808.7 L407.2,813.7" stroke-width="1.00"/><path d="M361.9,780.1 L380.3,791.9" stroke-width="0.80"/><path d="M415.6,825.4 C416.4,826.0 420.3,827.1 420.6,828.8 C420.9,830.5 418.0,833.3 417.2,835.5 C416.4,837.7 416.7,840.2 415.6,842.2 C414.5,844.2 412.8,845.2 410.5,847.2 C408.2,849.2 403.8,851.8 402.1,854.0 C400.4,856.2 400.8,859.6 400.5,860.7" stroke-width="0.90"/><path d="M468.7,818.6 L460.1,825.7 L446.6,833.3 L429.9,844.2 L418.1,850.9 L404.7,857.6 L393.0,866.0 L379.5,872.7 L381.9,876.8 L395.4,870.1 L407.1,861.7 L420.5,855.0 L432.3,848.3 L449.0,837.4 L462.5,829.8 L471.1,822.7 Z" fill="#fff" stroke="none"/><path d="M468.7,818.6 C467.3,819.8 463.8,823.2 460.1,825.7 C456.4,828.2 451.6,830.2 446.6,833.3 C441.6,836.4 434.6,841.3 429.9,844.2 C425.1,847.1 422.3,848.7 418.1,850.9 C413.9,853.1 408.9,855.1 404.7,857.6 C400.5,860.1 397.2,863.5 393.0,866.0 C388.8,868.5 381.8,871.6 379.5,872.7" stroke-width="1.40"/><path d="M471.1,822.7 C469.7,823.9 466.2,827.4 462.5,829.8 C458.8,832.3 454.0,834.3 449.0,837.4 C444.0,840.5 437.1,845.4 432.3,848.3 C427.6,851.2 424.7,852.8 420.5,855.0 C416.3,857.2 411.3,859.2 407.1,861.7 C402.9,864.2 399.6,867.6 395.4,870.1 C391.2,872.6 384.2,875.7 381.9,876.8" stroke-width="1.40"/><path d="M461.4,828.0 C459.1,829.3 452.9,832.5 447.9,835.6 C442.9,838.7 435.9,843.6 431.2,846.5 C426.4,849.4 423.6,851.0 419.4,853.2 C415.2,855.4 410.2,857.4 406.0,859.9 C401.8,862.4 398.5,865.8 394.3,868.3 C390.1,870.8 383.1,873.9 380.8,875.0" stroke-width="0.60"/><path d="M469.5,818.6 L472.0,817.5 L471.5,820.5 L470.9,822.5" stroke-width="1.00"/><path d="M443.0,833.0 L447.0,830.5 L452.0,829.5 L449.0,834.0" stroke-width="0.90"/><path d="M418.0,851.0 L422.0,848.0 L426.0,848.5" stroke-width="0.90"/><path d="M380.3,874.1 C378.4,875.2 372.0,877.7 368.6,880.8 C365.2,883.9 362.4,888.4 360.2,892.6 C358.0,896.8 356.9,901.5 355.2,906.0 C353.5,910.5 351.5,915.8 350.1,919.4 C348.7,923.0 347.4,926.4 346.8,927.8" stroke-width="1.30"/><path d="M381.8,876.1 C379.9,877.2 373.5,879.7 370.1,882.8 C366.8,885.9 363.9,890.4 361.7,894.6 C359.5,898.8 358.4,903.5 356.7,908.0 C355.0,912.5 353.0,917.8 351.6,921.4 C350.2,925.0 348.9,928.4 348.3,929.8" stroke-width="0.80"/><path d="M431.8,852.0 C431.6,853.5 432.4,857.0 430.5,860.7 C428.6,864.4 424.2,869.1 420.6,874.1 C417.0,879.1 412.8,885.9 408.9,890.9 C405.0,895.9 401.0,899.8 397.1,904.3 C393.2,908.8 388.5,914.2 385.4,917.7 C382.3,921.2 379.6,923.8 378.5,925.0" stroke-width="1.00"/><path d="M365.8,798.6 C366.8,801.3 369.6,808.9 372.0,815.0 C374.4,821.1 377.4,829.3 380.0,835.0 C382.6,840.7 385.6,844.5 387.6,849.0 C389.6,853.5 390.0,857.2 392.1,862.0 C394.2,866.8 397.5,873.2 400.0,878.0 C402.5,882.8 406.0,888.8 407.2,890.9" stroke-width="0.80"/><path d="M370.3,867.4 C368.9,868.5 363.9,871.3 361.9,874.1 C359.9,876.9 359.4,880.9 358.5,884.2 C357.6,887.6 357.4,890.7 356.8,894.2 C356.2,897.7 355.3,903.2 355.0,905.0" stroke-width="0.90"/><path d="M326.9,938.9 L383.5,921.7 L379.8,931.5 L378.6,948.8 L336.8,968.4 L314.6,958.6 L303.5,956.1 L314.6,938.9 Z" fill="#fff" stroke="none"/><path d="M326.9,938.9 L383.5,921.7" stroke-width="1.00"/><path d="M336.8,950.0 L379.8,931.5 L383.5,921.7" stroke-width="1.00"/><path d="M379.8,931.5 L378.6,948.8 L336.8,968.4 L336.8,950.0 L328.1,941.4" stroke-width="1.00"/><path d="M302.3,957.4 L314.6,958.6 L336.8,968.4" stroke-width="1.00"/><path d="M328.1,941.4 L328.1,953.7" stroke-width="0.90"/><path d="M351.5,927.8 L351.5,938.9" stroke-width="0.90"/><circle cx="343.5" cy="956.7" r="0.8" fill="#111"/><circle cx="374.3" cy="938.9" r="0.8" fill="#111"/><path d="M358.9,888.5 C358.1,891.6 355.4,901.4 354.0,906.9 C352.6,912.4 352.8,918.4 350.3,921.7 C347.8,925.0 343.1,925.0 339.2,926.6 C335.3,928.2 328.9,930.7 326.9,931.5" stroke-width="0.90"/><path d="M349.1,924.1 C345.4,925.3 332.6,929.0 326.9,931.5 C321.1,934.0 318.5,934.8 314.6,938.9 C310.7,943.0 305.4,953.2 303.5,956.1" stroke-width="1.30"/><path d="M350.5,926.0 C346.8,927.2 333.8,931.0 328.0,933.5 C322.2,936.0 319.8,937.1 316.0,941.0 C312.2,944.9 306.8,954.3 305.0,957.0" stroke-width="0.80"/><path d="M314.0,904.5 C314.9,904.9 318.2,904.4 319.5,906.9 C320.8,909.4 321.8,915.1 322.0,919.2 C322.2,923.3 321.6,927.8 320.8,931.5 C320.0,935.2 319.2,937.7 317.1,941.4 C315.1,945.1 309.9,951.7 308.5,953.7" stroke-width="1.00"/><ellipse cx="334.4" cy="812.3" rx="1.6" ry="2" fill="#fff" stroke-width="0.9"/><ellipse cx="280.2" cy="842.3" rx="1.6" ry="2" fill="#fff" stroke-width="0.9"/><ellipse cx="355.4" cy="873.2" rx="1.6" ry="2" fill="#fff" stroke-width="0.9"/><ellipse cx="284.2" cy="914.8" rx="1.6" ry="2" fill="#fff" stroke-width="0.9"/></g>
<line x1="335.5" y1="811.6" x2="594.5" y2="833.6" stroke="#555" stroke-width="1"/>
<g fill="none" stroke="#1a1a1a"><ellipse cx="463.9" cy="867.4" rx="22.2" ry="21.6" transform="rotate(-8 463.9 867.4)" stroke-width="1.5"/><ellipse cx="463.6" cy="868" rx="18.6" ry="18.6" transform="rotate(-8 463.6 868)" stroke-width="1"/><ellipse cx="464" cy="867.6" rx="20.3" ry="20" transform="rotate(-8 464 867.6)" stroke="#777" stroke-width="0.6"/><path d="M439.4,884 L443,882.5 L470,893.5 L469.5,899 L466,899.5 L440,889 Z" fill="#fff" stroke-width="1"/><path d="M446,884.5 l-1.3,4.5 M448.5,885.6 l-1.3,4.5 M451,886.6 l-1.3,4.5 M453.5,887.6 l-1.3,4.5 M456,888.6 l-1.3,4.5 M458.5,889.6 l-1.3,4.5 M461,890.6 l-1.3,4.5" stroke-width="0.9"/><path d="M439.4,884 L442.5,882.7 L444,888 L441,889.5 Z" fill="#111" stroke="none"/><path d="M447.5,875 L448.5,878.5 L446,879.5" stroke-width="0.9"/><path d="M465.2,867.1 L491.1,882.8" stroke="#444" stroke-width="0.9"/></g>
<g fill="none" stroke="#1a1a1a" stroke-width="1"><path d="M478.6,903.8 C480.0,902.9 483.5,902.0 486.0,900.8 C488.5,899.6 491.6,897.9 493.4,896.4 C495.1,894.9 493.7,894.2 496.5,891.5 C499.3,888.8 505.4,881.8 510.0,880.0 C514.6,878.2 521.0,881.1 524.0,881.0 C527.0,880.9 526.1,881.8 527.8,879.2 C529.5,876.7 531.3,868.8 534.0,865.7 C536.7,862.6 540.1,862.0 543.8,860.8 C547.5,859.6 552.0,859.1 556.1,858.3 C560.2,857.5 564.4,856.7 568.4,855.8 C572.4,854.9 576.4,845.6 580.0,853.0 C583.6,860.4 589.2,882.5 590.0,900.0 C590.8,917.5 588.6,947.5 585.0,958.0 C581.4,968.5 573.2,962.5 568.4,962.9 C563.6,963.3 560.2,961.8 556.1,960.4 C552.0,959.0 547.5,956.3 543.8,954.3 C540.1,952.2 537.3,950.8 534.0,948.1 C530.7,945.4 527.0,941.0 524.1,938.3 C521.2,935.6 518.4,934.6 516.8,932.1 C515.2,929.6 515.3,925.1 514.3,923.5 C513.3,921.9 513.0,923.5 510.6,922.3 C508.2,921.0 502.7,917.2 500.0,916.0 C497.3,914.8 497.1,915.4 494.6,914.9 C492.1,914.4 487.4,913.7 484.8,913.1 C482.2,912.5 480.4,912.3 479.2,911.2 C478.0,910.1 477.5,907.5 477.4,906.3 C477.3,905.1 477.2,904.7 478.6,903.8Z" fill="#fff" stroke="none"/><path d="M496.5,891.5 C496.0,892.3 495.1,894.9 493.4,896.4 C491.6,897.9 488.3,899.8 486.0,900.8 C483.7,901.8 481.2,901.7 479.8,902.6 C478.4,903.5 477.5,904.9 477.4,906.3 C477.3,907.7 478.0,910.1 479.2,911.2 C480.4,912.3 482.2,912.5 484.8,913.1 C487.4,913.7 492.1,914.4 494.6,914.9 C497.1,915.4 499.1,915.8 500.0,916.0" stroke-width="1"/><ellipse cx="513" cy="900.2" rx="19.5" ry="23" fill="#fff" stroke-width="1.5"/><ellipse cx="513.2" cy="900.2" rx="17.6" ry="21.2" stroke-width="1.6"/><ellipse cx="513.4" cy="900.2" rx="15.8" ry="19.6" stroke="#333" stroke-width="0.8"/><ellipse cx="513.6" cy="900.2" rx="14.4" ry="18.2" stroke="#333" stroke-width="0.8"/><clipPath id="bodyclip"><path d="M525.4,882.8 C526.8,880.4 527.6,880.4 528.5,878.7 C529.4,877.0 529.1,874.8 530.5,872.6 C531.9,870.4 534.7,867.3 536.7,865.4 C538.8,863.5 540.1,862.3 542.8,861.3 C545.5,860.3 549.7,859.7 553.1,859.2 C556.5,858.7 560.6,858.7 563.3,858.2 C566.0,857.7 567.5,856.7 569.5,856.2 C571.5,855.7 573.2,847.7 575.0,855.0 C576.8,862.3 579.2,885.8 580.0,900.0 C580.8,914.2 580.8,929.7 580.0,940.0 C579.2,950.3 577.1,958.2 575.0,962.0 C572.9,965.8 570.5,963.0 567.4,962.8 C564.3,962.6 560.0,961.6 556.2,960.8 C552.5,959.9 548.3,959.1 544.9,957.7 C541.5,956.3 538.5,954.8 535.6,952.6 C532.7,950.4 530.0,947.0 527.4,944.4 C524.8,941.8 522.3,940.1 520.3,937.2 C518.2,934.3 516.1,931.2 515.1,926.9 C514.1,922.6 513.9,915.8 514.1,911.5 C514.3,907.2 515.2,904.4 516.2,901.3 C517.2,898.2 518.8,896.2 520.3,893.1 C521.8,890.0 524.0,885.2 525.4,882.8Z"/></clipPath><path d="M525.4,882.8 C526.8,880.4 527.6,880.4 528.5,878.7 C529.4,877.0 529.1,874.8 530.5,872.6 C531.9,870.4 534.7,867.3 536.7,865.4 C538.8,863.5 540.1,862.3 542.8,861.3 C545.5,860.3 549.7,859.7 553.1,859.2 C556.5,858.7 560.6,858.7 563.3,858.2 C566.0,857.7 567.5,856.7 569.5,856.2 C571.5,855.7 573.2,847.7 575.0,855.0 C576.8,862.3 579.2,885.8 580.0,900.0 C580.8,914.2 580.8,929.7 580.0,940.0 C579.2,950.3 577.1,958.2 575.0,962.0 C572.9,965.8 570.5,963.0 567.4,962.8 C564.3,962.6 560.0,961.6 556.2,960.8 C552.5,959.9 548.3,959.1 544.9,957.7 C541.5,956.3 538.5,954.8 535.6,952.6 C532.7,950.4 530.0,947.0 527.4,944.4 C524.8,941.8 522.3,940.1 520.3,937.2 C518.2,934.3 516.1,931.2 515.1,926.9 C514.1,922.6 513.9,915.8 514.1,911.5 C514.3,907.2 515.2,904.4 516.2,901.3 C517.2,898.2 518.8,896.2 520.3,893.1 C521.8,890.0 524.0,885.2 525.4,882.8Z" fill="#fff" stroke-width="1.1"/><g clip-path="url(#bodyclip)"><path d="M519.6,897.0 Q524.0,920.0 530.5,942.3" stroke-width="2.9" stroke="#1a1a1a"/><path d="M529.0,880.5 Q535.0,915.0 541.8,952.6" stroke-width="2.9" stroke="#1a1a1a"/><path d="M544.4,879.5 Q549.0,910.0 556.2,952.6" stroke-width="2.9" stroke="#1a1a1a"/><path d="M558.0,902.0 Q561.0,930.0 564.0,958.0" stroke-width="2.9" stroke="#1a1a1a"/><path d="M524.4,888.0 Q540.8,890.5 559.2,882.8" stroke-width="2.9" stroke="#1a1a1a"/><path d="M517.7,905.4 Q538.7,907.4 559.2,902.3" stroke-width="2.9" stroke="#1a1a1a"/><path d="M518.7,920.8 Q540.8,923.8 563.3,917.7" stroke-width="2.9" stroke="#1a1a1a"/><path d="M523.3,936.2 Q543.8,939.2 566.4,933.1" stroke-width="2.9" stroke="#1a1a1a"/><path d="M537.7,952.6 Q553.0,952.5 570.5,950.5" stroke-width="2.9" stroke="#1a1a1a"/><path d="M519.6,897.0 Q524.0,920.0 530.5,942.3" stroke-width="1.3" stroke="#fff"/><path d="M529.0,880.5 Q535.0,915.0 541.8,952.6" stroke-width="1.3" stroke="#fff"/><path d="M544.4,879.5 Q549.0,910.0 556.2,952.6" stroke-width="1.3" stroke="#fff"/><path d="M558.0,902.0 Q561.0,930.0 564.0,958.0" stroke-width="1.3" stroke="#fff"/><path d="M524.4,888.0 Q540.8,890.5 559.2,882.8" stroke-width="1.3" stroke="#fff"/><path d="M517.7,905.4 Q538.7,907.4 559.2,902.3" stroke-width="1.3" stroke="#fff"/><path d="M518.7,920.8 Q540.8,923.8 563.3,917.7" stroke-width="1.3" stroke="#fff"/><path d="M523.3,936.2 Q543.8,939.2 566.4,933.1" stroke-width="1.3" stroke="#fff"/><path d="M537.7,952.6 Q553.0,952.5 570.5,950.5" stroke-width="1.3" stroke="#fff"/></g><path d="M566,846.5 L574.6,844.5 L576,851 L568,853.5 Z" fill="#fff" stroke-width="1"/><path d="M566,846.5 L574.6,844.5" stroke-width="1.6"/><use href="#gflange" transform="translate(445.6,519.0)"/><path d="M611.9,839.9 C614.9,840.1 618.6,840.7 621.6,841.7 C624.6,842.7 627.2,843.8 630.0,845.9 C632.8,848.0 636.0,851.2 638.4,854.4 C640.7,857.6 642.8,861.8 643.8,865.2 C644.8,868.6 644.6,871.4 644.4,874.8 C644.2,878.2 643.7,882.2 642.7,885.6 C641.6,889.0 639.6,892.5 638.4,895.3 C637.1,898.1 636.6,899.4 635.4,902.5 C634.2,905.5 632.2,909.6 631.1,913.4 C630.1,917.3 629.8,921.7 629.3,925.5 C628.8,929.3 629.0,933.0 628.1,936.2 C627.2,939.4 626.0,942.1 623.9,944.7 C621.8,947.3 618.8,949.7 615.6,951.9 C612.4,954.1 608.1,956.3 604.7,957.9 C601.3,959.5 597.9,961.1 595.1,961.5 C592.3,961.9 589.9,961.3 587.9,960.3 C585.9,959.3 584.5,958.5 583.1,955.5 C581.7,952.5 580.8,947.0 579.4,942.2 C578.0,937.4 576.3,931.7 574.7,926.7 C573.1,921.7 571.1,916.1 569.9,912.3 C568.7,908.4 567.8,907.4 567.4,903.8 C567.0,900.1 567.0,895.1 567.4,890.4 C567.8,885.8 568.5,880.6 569.9,876.0 C571.3,871.4 573.7,866.6 575.9,862.8 C578.1,859.0 580.3,856.1 583.1,853.1 C585.9,850.1 589.3,846.8 592.7,844.7 C596.1,842.6 600.3,841.4 603.5,840.6 C606.7,839.7 608.9,839.7 611.9,839.9Z" stroke="#111" stroke-width="1.8"/><path d="M611.7,841.9 C614.6,842.1 618.2,842.7 621.1,843.6 C624.0,844.6 626.5,845.6 629.2,847.7 C631.9,849.7 635.1,852.8 637.3,855.9 C639.5,859.0 641.6,863.0 642.6,866.3 C643.6,869.6 643.3,872.4 643.1,875.7 C642.9,879.0 642.4,882.8 641.5,886.1 C640.5,889.4 638.5,892.7 637.3,895.4 C636.1,898.1 635.7,899.5 634.5,902.4 C633.3,905.3 631.3,909.3 630.3,913.0 C629.3,916.7 629.0,921.0 628.6,924.6 C628.1,928.3 628.3,931.9 627.4,935.0 C626.6,938.2 625.4,940.7 623.4,943.3 C621.3,945.8 618.4,948.1 615.3,950.2 C612.1,952.4 608.0,954.5 604.7,956.1 C601.5,957.6 598.2,959.1 595.5,959.5 C592.8,959.9 590.5,959.3 588.5,958.3 C586.6,957.4 585.2,956.6 583.8,953.7 C582.5,950.8 581.7,945.5 580.3,940.9 C579.0,936.2 577.3,930.6 575.7,925.8 C574.2,921.0 572.2,915.5 571.1,911.9 C569.9,908.2 569.1,907.2 568.7,903.6 C568.3,900.1 568.3,895.2 568.7,890.7 C569.1,886.3 569.7,881.3 571.1,876.8 C572.4,872.4 574.7,867.7 576.9,864.0 C579.0,860.3 581.1,857.6 583.8,854.7 C586.5,851.7 589.8,848.6 593.1,846.5 C596.4,844.5 600.5,843.3 603.6,842.5 C606.7,841.7 608.8,841.7 611.7,841.9Z" stroke="#333" stroke-width="0.8"/><path d="M611.4,844.9 C614.2,845.1 617.5,845.7 620.3,846.6 C623.0,847.5 625.4,848.5 628.0,850.5 C630.5,852.4 633.5,855.3 635.7,858.2 C637.8,861.2 639.8,865.0 640.7,868.1 C641.6,871.2 641.3,873.8 641.2,877.0 C641.0,880.1 640.5,883.7 639.6,886.8 C638.7,889.9 636.7,893.1 635.7,895.7 C634.6,898.2 634.1,899.5 633.0,902.3 C631.9,905.0 630.0,908.8 629.1,912.3 C628.1,915.8 627.8,919.9 627.4,923.3 C626.9,926.8 627.1,930.3 626.3,933.2 C625.5,936.1 624.4,938.6 622.5,941.0 C620.5,943.4 617.7,945.6 614.8,947.6 C611.8,949.6 607.9,951.6 604.8,953.1 C601.7,954.6 598.6,956.0 596.1,956.3 C593.5,956.7 591.3,956.2 589.5,955.3 C587.6,954.3 586.3,953.6 585.0,950.8 C583.7,948.1 583.0,943.1 581.7,938.7 C580.4,934.3 578.8,929.0 577.3,924.4 C575.9,919.8 574.0,914.7 572.9,911.2 C571.8,907.7 571.0,906.8 570.6,903.4 C570.3,900.1 570.3,895.5 570.6,891.2 C571.0,887.0 571.6,882.3 572.9,878.0 C574.2,873.8 576.4,869.4 578.4,865.9 C580.4,862.4 582.5,859.8 585.0,857.1 C587.6,854.3 590.7,851.3 593.8,849.4 C596.9,847.5 600.8,846.3 603.7,845.5 C606.7,844.8 608.7,844.8 611.4,844.9Z" stroke="#222" stroke-width="0.9"/><ellipse cx="622.7" cy="837.4" rx="2.1" ry="2.5" fill="#fff" stroke="#111" stroke-width="1.2"/><ellipse cx="568.2" cy="866.8" rx="2.1" ry="2.5" fill="#fff" stroke="#111" stroke-width="1.2"/><ellipse cx="644.0" cy="898.0" rx="2.1" ry="2.5" fill="#fff" stroke="#111" stroke-width="1.2"/><ellipse cx="571.8" cy="939.6" rx="2.1" ry="2.5" fill="#fff" stroke="#111" stroke-width="1.2"/><ellipse cx="616.6" cy="956.7" rx="2.1" ry="2.5" fill="#fff" stroke="#111" stroke-width="1.2"/><path d="M589.7,870.8 L604,916.1 M613.9,876.4 L624.4,907.4" stroke-width="0.8"/><path d="M589.7,941.5 Q600,935 613.2,934" stroke-width="0.8"/><path d="M626,910 L622,928 M627.5,913 L624,926" stroke="#555" stroke-width="0.7"/></g>

<g><text class="lb" transform="translate(156.0,283.3) scale(0.86,1)">92161</text><text class="lb" transform="translate(251.5,291.5) scale(0.86,1)">59006</text><text class="lb" transform="translate(347.1,299.3) scale(0.86,1)">92161</text><text class="lb" transform="translate(443.5,306.7) scale(0.86,1)">13280A</text><text class="lb" transform="translate(533.1,326.7) scale(0.86,1)">13280</text><text class="lb" transform="translate(673.4,322.5) scale(0.86,1)">11013</text><text class="lb" transform="translate(748.4,478.4) scale(0.86,1)">92153</text><text class="lb" transform="translate(323.6,656.5) scale(0.86,1)">92150</text><text class="lb" transform="translate(367.1,711.5) scale(0.86,1)">92152</text><text class="lb" transform="translate(212.5,738.9) scale(0.86,1)">92152</text><text class="lb" transform="translate(95.6,758.3) scale(0.86,1)">92015</text><text class="lb" transform="translate(139.9,782.2) scale(0.86,1)">92150</text><text class="lb" transform="translate(134.2,972.8) scale(0.86,1)">13271</text><text class="lb" transform="translate(260.8,999.3) scale(0.86,1)">11011</text><text class="lb" transform="translate(434.7,939.9) scale(0.86,1)">92171</text><text class="lb" transform="translate(571.7,1007.9) scale(0.86,1)">14073</text></g>
<text x="352.3" y="595.2" transform="rotate(5.0 352.3 595.2)" font-family="Liberation Sans" font-size="26.8" fill="#000">© Partzilla.com</text>
<g style="mix-blend-mode:multiply"><g transform="translate(21.0,19.0) rotate(5.0)"><text x="1.5" y="0.7" class="wm2">© Partzilla.com</text><text x="0" y="0" class="wm">© Partzilla.com</text></g><g transform="translate(351.3,19.0) rotate(5.0)"><text x="1.5" y="0.7" class="wm2">© Partzilla.com</text><text x="0" y="0" class="wm">© Partzilla.com</text></g><g transform="translate(681.6,19.0) rotate(5.0)"><text x="1.5" y="0.7" class="wm2">© Partzilla.com</text><text x="0" y="0" class="wm">© Partzilla.com</text></g><g transform="translate(21.0,306.9) rotate(5.0)"><text x="1.5" y="0.7" class="wm2">© Partzilla.com</text><text x="0" y="0" class="wm">© Partzilla.com</text></g><g transform="translate(351.3,306.9) rotate(5.0)"><text x="1.5" y="0.7" class="wm2">© Partzilla.com</text><text x="0" y="0" class="wm">© Partzilla.com</text></g><g transform="translate(681.6,306.9) rotate(5.0)"><text x="1.5" y="0.7" class="wm2">© Partzilla.com</text><text x="0" y="0" class="wm">© Partzilla.com</text></g><g transform="translate(21.0,594.8) rotate(5.0)"><text x="1.5" y="0.7" class="wm2">© Partzilla.com</text><text x="0" y="0" class="wm">© Partzilla.com</text></g><g transform="translate(681.6,594.8) rotate(5.0)"><text x="1.5" y="0.7" class="wm2">© Partzilla.com</text><text x="0" y="0" class="wm">© Partzilla.com</text></g><g transform="translate(21.0,882.7) rotate(5.0)"><text x="1.5" y="0.7" class="wm2">© Partzilla.com</text><text x="0" y="0" class="wm">© Partzilla.com</text></g><g transform="translate(351.3,882.7) rotate(5.0)"><text x="1.5" y="0.7" class="wm2">© Partzilla.com</text><text x="0" y="0" class="wm">© Partzilla.com</text></g><g transform="translate(681.6,882.7) rotate(5.0)"><text x="1.5" y="0.7" class="wm2">© Partzilla.com</text><text x="0" y="0" class="wm">© Partzilla.com</text></g></g>
</svg></body></html>
